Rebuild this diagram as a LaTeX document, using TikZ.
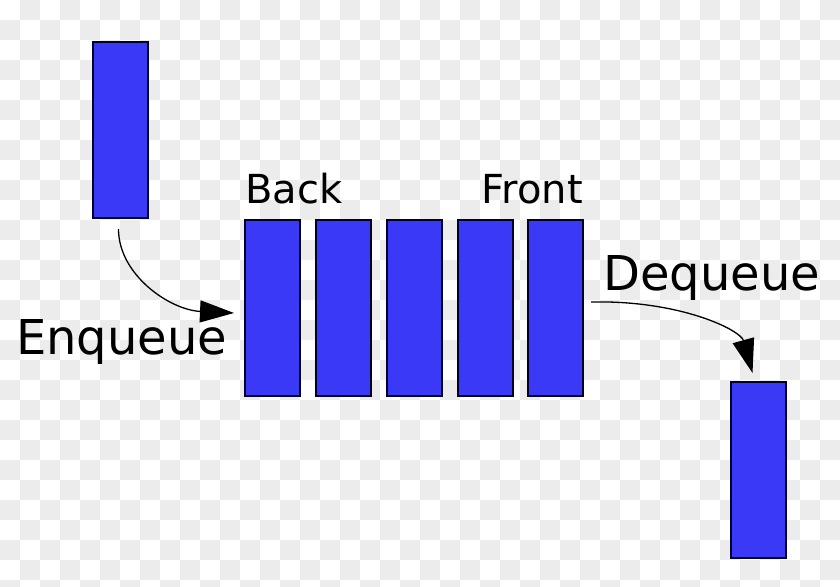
\documentclass[tikz,border=0pt]{standalone}
\usepackage{fontspec}
\setmainfont{DejaVu Sans}
\usetikzlibrary{arrows.meta}
\definecolor{blockblue}{RGB}{58,58,246}
\definecolor{checkgray}{RGB}{236,236,236}
\tikzset{
  block/.style={draw=black!85!blue, line width=1.5pt, fill=blockblue, minimum width=55pt, minimum height=176pt, inner sep=0pt, outer sep=0pt},
  labelsmall/.style={inner sep=0pt, font=\fontsize{40}{42}\selectfont},
  labelbig/.style={inner sep=0pt, font=\fontsize{48}{50}\selectfont},
  conn/.style={line width=1.3pt, -{Triangle[length=34pt,width=22pt]}}
}
\begin{document}
\begin{tikzpicture}[x=1pt,y=-1pt]
\useasboundingbox (0,0) rectangle (840,586);
% checkerboard background
\foreach \i in {0,...,41}{
  \foreach \j in {0,...,29}{
    \pgfmathtruncatemacro{\myparity}{mod(\i+\j,2)}
    \ifnum\myparity=1
      \fill[checkgray] (\i*20,\j*20) rectangle ++(20,20);
    \fi
  }
}
% blocks
\node[block] (in) at (120.5,130) {};
\node[block] (b1) at (272.5,308) {};
\node[block] (b2) at (343.5,308) {};
\node[block] (b3) at (414.5,308) {};
\node[block] (b4) at (485.5,308) {};
\node[block] (b5) at (555.5,308) {};
\node[block] (out) at (758.5,470) {};
% labels
\node[labelsmall, anchor=base west] (back) at (245,203) {Back};
\node[labelsmall, anchor=base east] (front) at (583,203) {Front};
\node[labelbig, anchor=base west] (enq) at (16,354) {Enqueue};
\node[labelbig, anchor=base west] (deq) at (603,290) {Dequeue};
% connectors
\draw[conn] ([xshift=-2pt,yshift=-11pt]in.south) .. controls +(0,46) and +(-64,-3) .. ([xshift=-11pt,yshift=-5pt]b1.west);
\draw[conn] ([xshift=8pt,yshift=6pt]b5.east) .. controls +(89,-2) and +(-12,-43) .. ([xshift=-6pt,yshift=9pt]out.north);
\end{tikzpicture}
\end{document}
